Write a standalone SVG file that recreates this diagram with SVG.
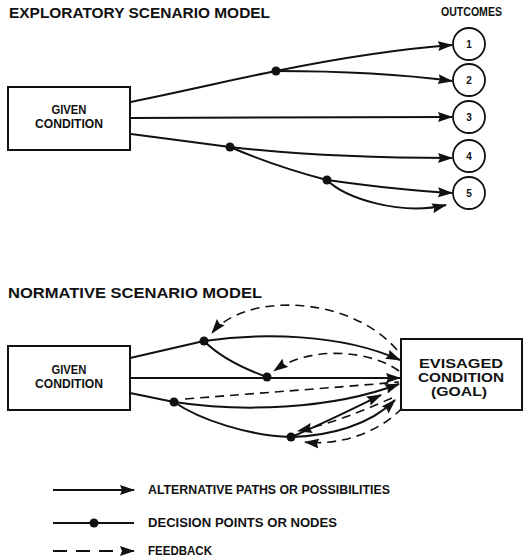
<svg xmlns="http://www.w3.org/2000/svg" width="530" height="560" viewBox="0 0 530 560">
  <style>
    text { font-family: "Liberation Sans", Arial, sans-serif; fill: #111; }
    .title { font-size: 15.5px; font-weight: bold; }
    .lbl { font-size: 12.5px; font-weight: bold; }
    .num { font-size: 10px; font-weight: bold; }
    .leg { font-size: 12px; font-weight: bold; }
    .box { fill: #fff; stroke: #111; stroke-width: 2; }
    .ring { fill: #fff; stroke: #111; stroke-width: 1.8; }
    .path { fill: none; stroke: #111; stroke-width: 2; }
    .arr { marker-end: url(#arrow); }
    .fb { fill: none; stroke: #111; stroke-width: 1.6; stroke-dasharray: 9 6; marker-end: url(#arrow); }
    .dot { fill: #111; }
  </style>
  <defs>
    <!-- solid blunt arrowhead shared by paths and feedback lines -->
    <marker id="arrow" markerUnits="userSpaceOnUse" markerWidth="15" markerHeight="11" viewBox="0 0 15 11" refX="14" refY="5.5" orient="auto">
      <path d="M0,0.5 L15,5.5 L0,10.5 L2,5.5 Z" fill="#111"/>
    </marker>
  </defs>

  <!-- Exploratory scenario model -->
  <text class="title" x="9" y="18" textLength="261" lengthAdjust="spacingAndGlyphs">EXPLORATORY SCENARIO MODEL</text>
  <text class="lbl" x="441" y="16" font-size="11" textLength="61" lengthAdjust="spacingAndGlyphs">OUTCOMES</text>

  <g id="exp-given">
    <rect class="box" x="8" y="87" width="122" height="63"/>
    <text class="lbl" x="69" y="114" text-anchor="middle" textLength="35" lengthAdjust="spacingAndGlyphs">GIVEN</text>
    <text class="lbl" x="69" y="128" text-anchor="middle" textLength="68" lengthAdjust="spacingAndGlyphs">CONDITION</text>
  </g>
  <g id="outcome-1"><circle class="ring" cx="469" cy="44" r="16"/><text class="num" x="469" y="48" text-anchor="middle">1</text></g>
  <g id="outcome-2"><circle class="ring" cx="469" cy="80" r="16"/><text class="num" x="469" y="84" text-anchor="middle">2</text></g>
  <g id="outcome-3"><circle class="ring" cx="469" cy="117" r="16"/><text class="num" x="469" y="121" text-anchor="middle">3</text></g>
  <g id="outcome-4"><circle class="ring" cx="469" cy="156" r="16"/><text class="num" x="469" y="160" text-anchor="middle">4</text></g>
  <g id="outcome-5"><circle class="ring" cx="469" cy="193" r="16"/><text class="num" x="469" y="197" text-anchor="middle">5</text></g>

  <g id="exp-connectors">
    <path class="path arr" d="M131,102 C190,90 240,78 276,71 C340,58 400,49 452,45"/>
    <path class="path arr" d="M276,71 C330,71 400,74 452,81"/>
    <path class="path arr" d="M131,118 L452,117"/>
    <path class="path" d="M131,134 L230,147"/>
    <path class="path arr" d="M230,147 C300,155 380,158 452,158"/>
    <path class="path" d="M230,147 C265,162 300,173 327,180"/>
    <path class="path arr" d="M327,180 C370,186 410,191 452,193"/>
    <path class="path arr" d="M327,180 C345,198 400,216 446,205"/>
  </g>
  <g id="exp-nodes">
    <circle class="dot" cx="276" cy="71" r="4.5"/>
    <circle class="dot" cx="230" cy="147" r="4.5"/>
    <circle class="dot" cx="327" cy="180" r="4.5"/>
  </g>

  <!-- Normative scenario model -->
  <text class="title" x="8" y="298" textLength="254" lengthAdjust="spacingAndGlyphs">NORMATIVE SCENARIO MODEL</text>

  <g id="norm-given">
    <rect class="box" x="8" y="346" width="122" height="64"/>
    <text class="lbl" x="69" y="374" text-anchor="middle" textLength="35" lengthAdjust="spacingAndGlyphs">GIVEN</text>
    <text class="lbl" x="69" y="388" text-anchor="middle" textLength="68" lengthAdjust="spacingAndGlyphs">CONDITION</text>
  </g>
  <g id="norm-goal">
    <rect class="box" x="401" y="339" width="121" height="71"/>
    <text class="lbl" x="461" y="368" text-anchor="middle" textLength="84" lengthAdjust="spacingAndGlyphs">EVISAGED</text>
    <text class="lbl" x="461" y="382" text-anchor="middle" textLength="86" lengthAdjust="spacingAndGlyphs">CONDITION</text>
    <text class="lbl" x="459" y="396" text-anchor="middle" textLength="56" lengthAdjust="spacingAndGlyphs">(GOAL)</text>
  </g>

  <g id="norm-connectors">
    <!-- alternative paths -->
    <path class="path" d="M130,358 L204,341"/>
    <path class="path arr" d="M204,341 C260,333 340,333 400,360"/>
    <path class="path" d="M204,341 Q225,362 267,377"/>
    <path class="path arr" d="M130,378 L400,378"/>
    <path class="path" d="M130,393 L174,402"/>
    <path class="path arr" d="M174,402 C240,412 330,410 399,384"/>
    <path class="path" d="M174,402 C200,420 250,436 291,437"/>
    <path class="path arr" d="M291,437 C320,425 350,410 381,395"/>
    <path class="path arr" d="M291,437 C330,436 370,425 395,400"/>
    <!-- feedback -->
    <path class="fb" d="M397,350 C350,295 245,292 212,333"/>
    <path class="fb" d="M399,371 C370,350 310,345 274,371"/>
    <path class="fb" style="marker-end:none" d="M185,399 C260,393 330,388 399,382"/>
    <path class="fb" d="M392,398 C360,412 330,424 298,431"/>
    <path class="fb" d="M402,408 C380,432 340,446 305,442"/>
  </g>
  <g id="norm-nodes">
    <circle class="dot" cx="204" cy="341" r="4.5"/>
    <circle class="dot" cx="267" cy="377" r="4.5"/>
    <circle class="dot" cx="174" cy="402" r="4.5"/>
    <circle class="dot" cx="291" cy="437" r="4.5"/>
  </g>

  <!-- Legend -->
  <g id="legend">
    <path class="path arr" d="M53,490 L134,490"/>
    <text class="leg" x="148" y="494" textLength="242" lengthAdjust="spacingAndGlyphs">ALTERNATIVE PATHS OR POSSIBILITIES</text>
    <path class="path" d="M53,523 L134,523"/>
    <circle class="dot" cx="94" cy="523" r="4.5"/>
    <text class="leg" x="148" y="527" textLength="189" lengthAdjust="spacingAndGlyphs">DECISION POINTS OR NODES</text>
    <path class="fb" style="stroke-dasharray:14 9;stroke-width:2" d="M53,551 L134,551"/>
    <text class="leg" x="148" y="555" textLength="64" lengthAdjust="spacingAndGlyphs">FEEDBACK</text>
  </g>
</svg>
